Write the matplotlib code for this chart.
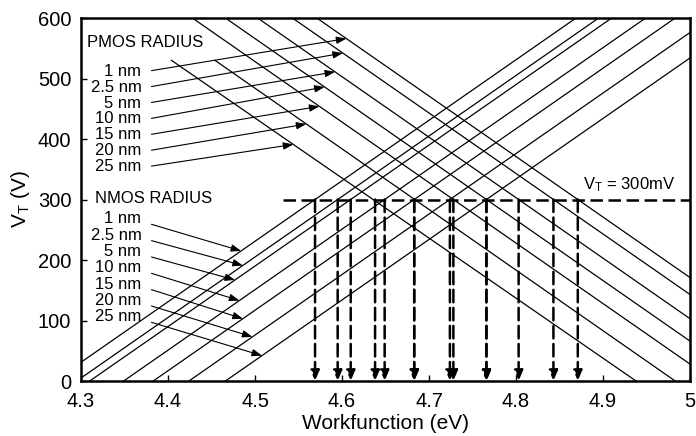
import numpy as np
import matplotlib
matplotlib.use("Agg")
import matplotlib.pyplot as plt

plt.rcParams['font.family'] = ['Liberation Sans', 'DejaVu Sans']
plt.rcParams['mathtext.fontset'] = 'custom'
plt.rcParams['mathtext.rm'] = 'Liberation Sans'
plt.rcParams['mathtext.it'] = 'Liberation Sans'
plt.rcParams['lines.scale_dashes'] = False

# radii of the devices (same order for NMOS and PMOS)
radii = ["1 nm", "2.5 nm", "5 nm", "10 nm", "15 nm", "20 nm", "25 nm"]

# NMOS lines: workfunction where VT = 0 and VT = 600
nmos_wf_vt0 = [4.269, 4.295, 4.310, 4.349, 4.383, 4.424, 4.466]
nmos_wf_vt600 = [4.869, 4.895, 4.910, 4.949, 4.983, 5.024, 5.066]

# PMOS lines: upper start point and workfunction where VT = 0
pmos_wf_start = [4.571, 4.543, 4.503, 4.466, 4.428, 4.454, 4.404]
pmos_vt_start = [600, 600, 600, 600, 600, 530, 530]
pmos_wf_vt0 = [5.171, 5.143, 5.103, 5.066, 5.028, 4.983, 4.938]

# workfunctions giving VT = 300 mV
vt_target = 300
nmos_wf_300 = [4.569, 4.595, 4.610, 4.649, 4.683, 4.724, 4.766]
pmos_wf_300 = [4.871, 4.843, 4.803, 4.766, 4.728, 4.683, 4.638]

# where the label arrows hit the lines
nmos_arrow_wf = [4.484, 4.486, 4.477, 4.482, 4.486, 4.497, 4.508]
pmos_arrow_wf = [4.605, 4.601, 4.592, 4.580, 4.574, 4.559, 4.544]

fig = plt.figure(figsize=(6.96, 4.36), dpi=100)
ax = fig.add_axes([0.1164, 0.1261, 0.8750, 0.8326])

for i in range(len(radii)):
    ax.plot([nmos_wf_vt0[i], nmos_wf_vt600[i]], [0, 600], color='k', lw=0.9)
    ax.plot([pmos_wf_start[i], pmos_wf_vt0[i]], [pmos_vt_start[i], 0], color='k', lw=0.9)

# VT = 300 mV dashed line and down arrows
ax.plot([4.532, 5.0], [vt_target, vt_target], color='k', lw=1.8, dashes=(9, 4))
for x in nmos_wf_300 + pmos_wf_300:
    ax.annotate('', xy=(x, 0), xytext=(x, vt_target),
                arrowprops=dict(arrowstyle='-|>,head_length=0.6,head_width=0.25',
                                color='k', lw=1.8, linestyle=(0, (9, 4)),
                                shrinkA=0, shrinkB=0))
ax.text(4.877, 324, r'V$_\mathrm{T}$ = 300mV', fontsize=12, va='center', ha='left')

# radius labels with arrows
arr = dict(arrowstyle='-|>,head_length=0.6,head_width=0.22', color='k', lw=0.8,
           shrinkA=0, shrinkB=0)
ax.text(4.3065, 559, 'PMOS RADIUS', fontsize=12, va='center', ha='left')
ax.text(4.316, 301, 'NMOS RADIUS', fontsize=12, va='center', ha='left')
for i, r in enumerate(radii):
    py = 512 - 26.3 * i
    ax.text(4.3694, py, r, fontsize=12, va='center', ha='right')
    hx = pmos_arrow_wf[i]
    hy = np.interp(hx, [pmos_wf_start[i], pmos_wf_vt0[i]], [pmos_vt_start[i], 0])
    ax.annotate('', xy=(hx, hy), xytext=(4.381, py + 1), arrowprops=arr)

    ny = 268 - 27 * i
    ax.text(4.3694, ny, r, fontsize=12, va='center', ha='right')
    hx = nmos_arrow_wf[i]
    hy = np.interp(hx, [nmos_wf_vt0[i], nmos_wf_vt600[i]], [0, 600])
    ax.annotate('', xy=(hx, hy), xytext=(4.381, ny - 9), arrowprops=arr)

ax.set_xlim(4.3, 5.0)
ax.set_ylim(0, 600)
ax.set_xticks(np.arange(4.3, 5.01, 0.1))
ax.set_xticklabels(['4.3', '4.4', '4.5', '4.6', '4.7', '4.8', '4.9', '5'])
ax.set_yticks(range(0, 601, 100))
ax.tick_params(direction='in', length=4, width=1, labelsize=14.5)
ax.tick_params(axis='x', pad=8)
ax.tick_params(axis='y', pad=7)
for s in ax.spines.values():
    s.set_linewidth(1.8)

ax.set_xlabel('Workfunction (eV)', fontsize=15, labelpad=2)
ax.set_ylabel(r'V$_\mathrm{T}$ (V)', fontsize=15, labelpad=4)

fig.savefig('out.png', dpi=100)
